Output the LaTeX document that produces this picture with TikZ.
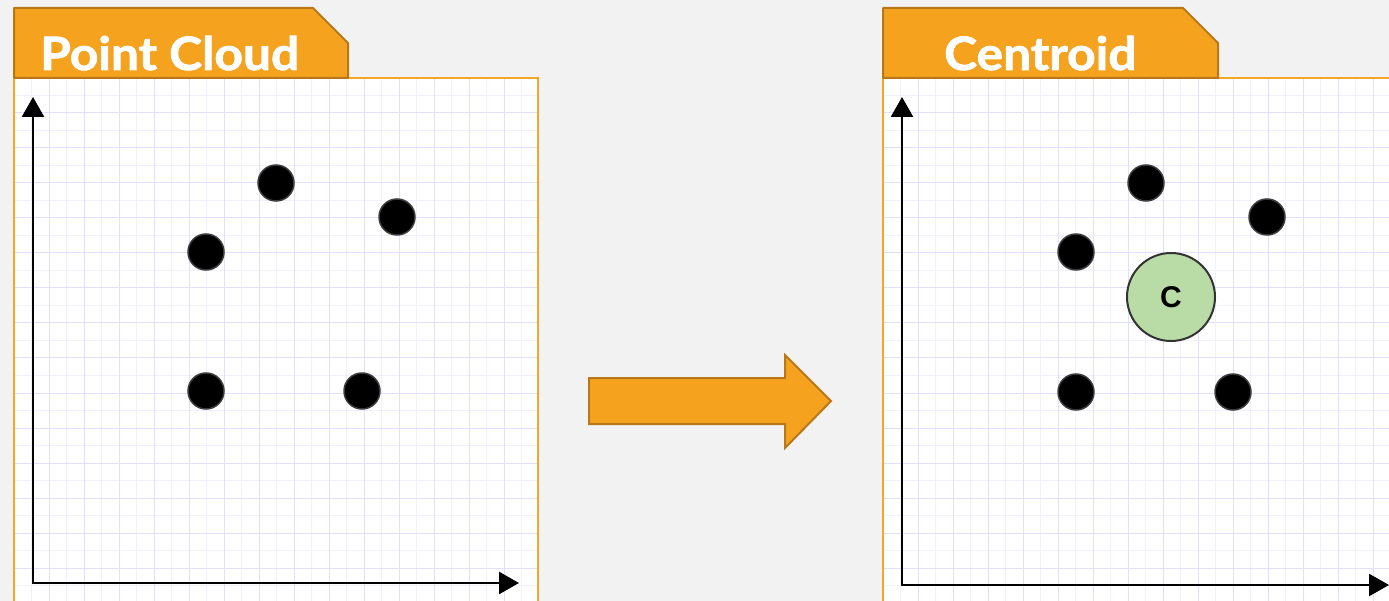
\documentclass[tikz,border=0pt]{standalone}
\usepackage{fontspec}
\setmainfont{Lato}
\setsansfont{Liberation Sans}
\newfontfamily\titlefont[FakeBold=1.6]{Lato}
\usetikzlibrary{arrows.meta}

\definecolor{bgGray}{RGB}{242,242,242}
\definecolor{tabFill}{RGB}{245,162,31}
\definecolor{tabLine}{RGB}{185,120,24}
\definecolor{frameLine}{RGB}{245,166,35}
\definecolor{gridMinor}{RGB}{240,240,255}
\definecolor{gridMajor}{RGB}{224,224,252}
\definecolor{centFill}{RGB}{185,219,165}
\definecolor{centLine}{RGB}{51,51,51}
\definecolor{dotLine}{RGB}{60,60,60}

\begin{document}
\begin{tikzpicture}[
  x=1pt, y=-1pt,
  panel/.style={draw=frameLine, line width=1.5pt, fill=white},
  tab/.style={draw=tabLine, fill=tabFill, line width=2pt, line join=round},
  title/.style={anchor=base west, text=white, inner sep=0pt,
    font=\titlefont\bfseries\fontsize{46}{50}\selectfont},
  minorline/.style={draw=gridMinor, line width=1pt},
  majorline/.style={draw=gridMajor, line width=1pt},
  axis/.style={line width=2.5pt,
    {Triangle[length=20pt,width=22pt]}-{Triangle[length=20pt,width=22pt]}},
  dot/.style={circle, fill=black, draw=dotLine, line width=1.5pt,
    minimum size=36pt, inner sep=0pt},
  centroid/.style={circle, fill=centFill, draw=centLine, line width=2pt,
    minimum size=88pt, inner sep=0pt,
    font=\sffamily\bfseries\fontsize{30}{32}\selectfont},
  flow/.style={draw=tabLine, fill=tabFill, line width=2pt}
]

\useasboundingbox (0,0) rectangle (1389,601);
\fill[bgGray] (0,0) rectangle (1389,601);
\clip (0,0) rectangle (1389,601);

% Panels with grid
\foreach \ox/\w in {14/524, 883/520} {
  \filldraw[panel] (\ox,78) rectangle ({\ox+\w},620);
  \foreach \i in {1,...,29} {
    \draw[minorline] ({\ox+17.5*\i},79) -- ({\ox+17.5*\i},620);
    \draw[minorline] ({\ox+1},{78+17.5*\i}) -- ({\ox+\w-1},{78+17.5*\i});
  }
  \foreach \i in {1,...,14} {
    \draw[majorline] ({\ox+35*\i},79) -- ({\ox+35*\i},620);
    \draw[majorline] ({\ox+1},{78+35*\i}) -- ({\ox+\w-1},{78+35*\i});
  }
  \draw[frameLine, line width=1.5pt] (\ox,620) -- (\ox,78) -- ({\ox+\w},78) -- ({\ox+\w},620);
}

% Tabs
\filldraw[tab] (14,78) -- (14,8) -- (313,8) -- (348,43) -- (348,78) -- cycle;
\filldraw[tab] (883,78) -- (883,8) -- (1183,8) -- (1218,43) -- (1218,78) -- cycle;
\node[title] (pctitle) at (40,70) {\scalebox{1.08}[1]{Point Cloud}};
\node[title] (cttitle) at (944,70) {\scalebox{1.08}[1]{Centroid}};

% Axes
\coordinate (ltop) at (33,97);
\coordinate (lcorner) at (33,583);
\coordinate (lright) at (519,583);
\draw[axis] (ltop) -- (lcorner) -- (lright);

\coordinate (rtop) at (902,97);
\coordinate (rcorner) at (902,585);
\coordinate (rright) at (1389,585);
\draw[axis] (rtop) -- (rcorner) -- (rright);

% Points, left
\node[dot] (l1) at (276,183) {};
\node[dot] (l2) at (397,217) {};
\node[dot] (l3) at (206,252) {};
\node[dot] (l4) at (206,391) {};
\node[dot] (l5) at (362,391) {};

% Points, right
\node[dot] (r1) at (1146,183) {};
\node[dot] (r2) at (1267,217) {};
\node[dot] (r3) at (1076,252) {};
\node[dot] (r4) at (1076,392) {};
\node[dot] (r5) at (1233,392) {};
\node[centroid] (cent) at (1171,297) {C};

% Big arrow
\filldraw[flow] (589,378) -- (785,378) -- (785,355) -- (831,401)
  -- (785,448) -- (785,424) -- (589,424) -- cycle;

\end{tikzpicture}
\end{document}
